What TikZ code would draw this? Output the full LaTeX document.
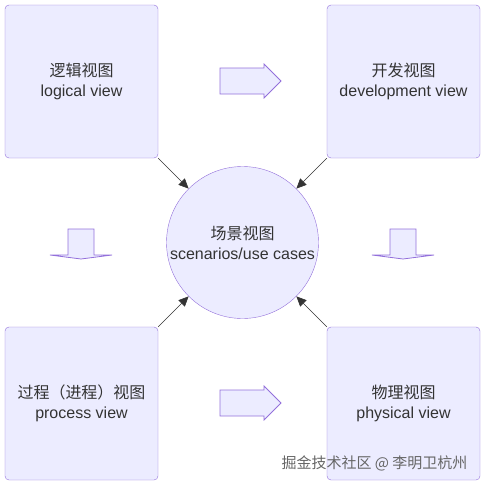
\documentclass[tikz,border=0pt]{standalone}
\usepackage{fontspec}
\setmainfont{Liberation Sans}
\newfontfamily\cjk{Noto Sans CJK SC}
\usetikzlibrary{arrows.meta}

\definecolor{viewfill}{HTML}{ECECFF}
\definecolor{viewline}{HTML}{9370DB}
\definecolor{viewtext}{HTML}{333333}

\begin{document}
\begin{tikzpicture}[x=1pt, y=-1pt]
  \newcommand\boxsize{153pt}
  \newcommand\circsize{152pt}
  \newcommand\viewfont{\fontsize{16}{20}\selectfont}

  \tikzset{ptr/.style={semithick, ->, >={Triangle[length=10pt, width=9pt]}, draw=viewtext}}
  \tikzset{viewbox/.style={draw=viewline, fill=viewfill, rounded corners=4pt,
      minimum width=\boxsize, minimum height=\boxsize, align=center,
      text=viewtext, font=\viewfont, inner sep=0pt}}
  \tikzset{viewcirc/.style={viewbox, circle, rounded corners=0pt, minimum size=\circsize}}
  \tikzset{blockarrow/.style={draw=viewline, fill=viewfill, line width=0.8pt}}

  \useasboundingbox (0, 0) rectangle (485, 485);

  % views
  \node[viewbox] at (81.5, 81.5) (logical) {{\cjk 逻辑视图}\\logical view};
  \node[viewbox] at (403.5, 81.5) (development) {{\cjk 开发视图}\\development view};
  \node[viewbox] at (81.5, 403.5) (process) {{\cjk 过程（进程）视图}\\process view};
  \node[viewbox] at (403.5, 403.5) (physical) {{\cjk 物理视图}\\physical view};
  \node[viewcirc] at (242.5, 242.5) (scenarios) {{\cjk 场景视图}\\scenarios/use cases};

  % block arrows
  \foreach \by in {81, 403}{
    \draw[blockarrow] (220, \by-13) -- (264, \by-13) -- (264, \by-17) -- (281, \by)
      -- (264, \by+17) -- (264, \by+13) -- (220, \by+13) -- cycle;
  }
  \foreach \bx in {81, 403}{
    \draw[blockarrow] (\bx-13, 229) -- (\bx+13, 229) -- (\bx+13, 255) -- (\bx+31, 255)
      -- (\bx, 259) -- (\bx-31, 255) -- (\bx-13, 255) -- cycle;
  }

  % connectors to scenarios
  \draw[ptr] (logical.south east) -- (scenarios.north west);
  \draw[ptr] (development.south west) -- (scenarios.north east);
  \draw[ptr] (process.north east) -- (scenarios.south west);
  \draw[ptr] (physical.north west) -- (scenarios.south east);

  % watermark
  \node[text=black!60, font=\cjk\fontsize{15}{18}\selectfont, anchor=east] at (471, 463) (mark) {掘金技术社区 @ 李明卫杭州};
\end{tikzpicture}
\end{document}
